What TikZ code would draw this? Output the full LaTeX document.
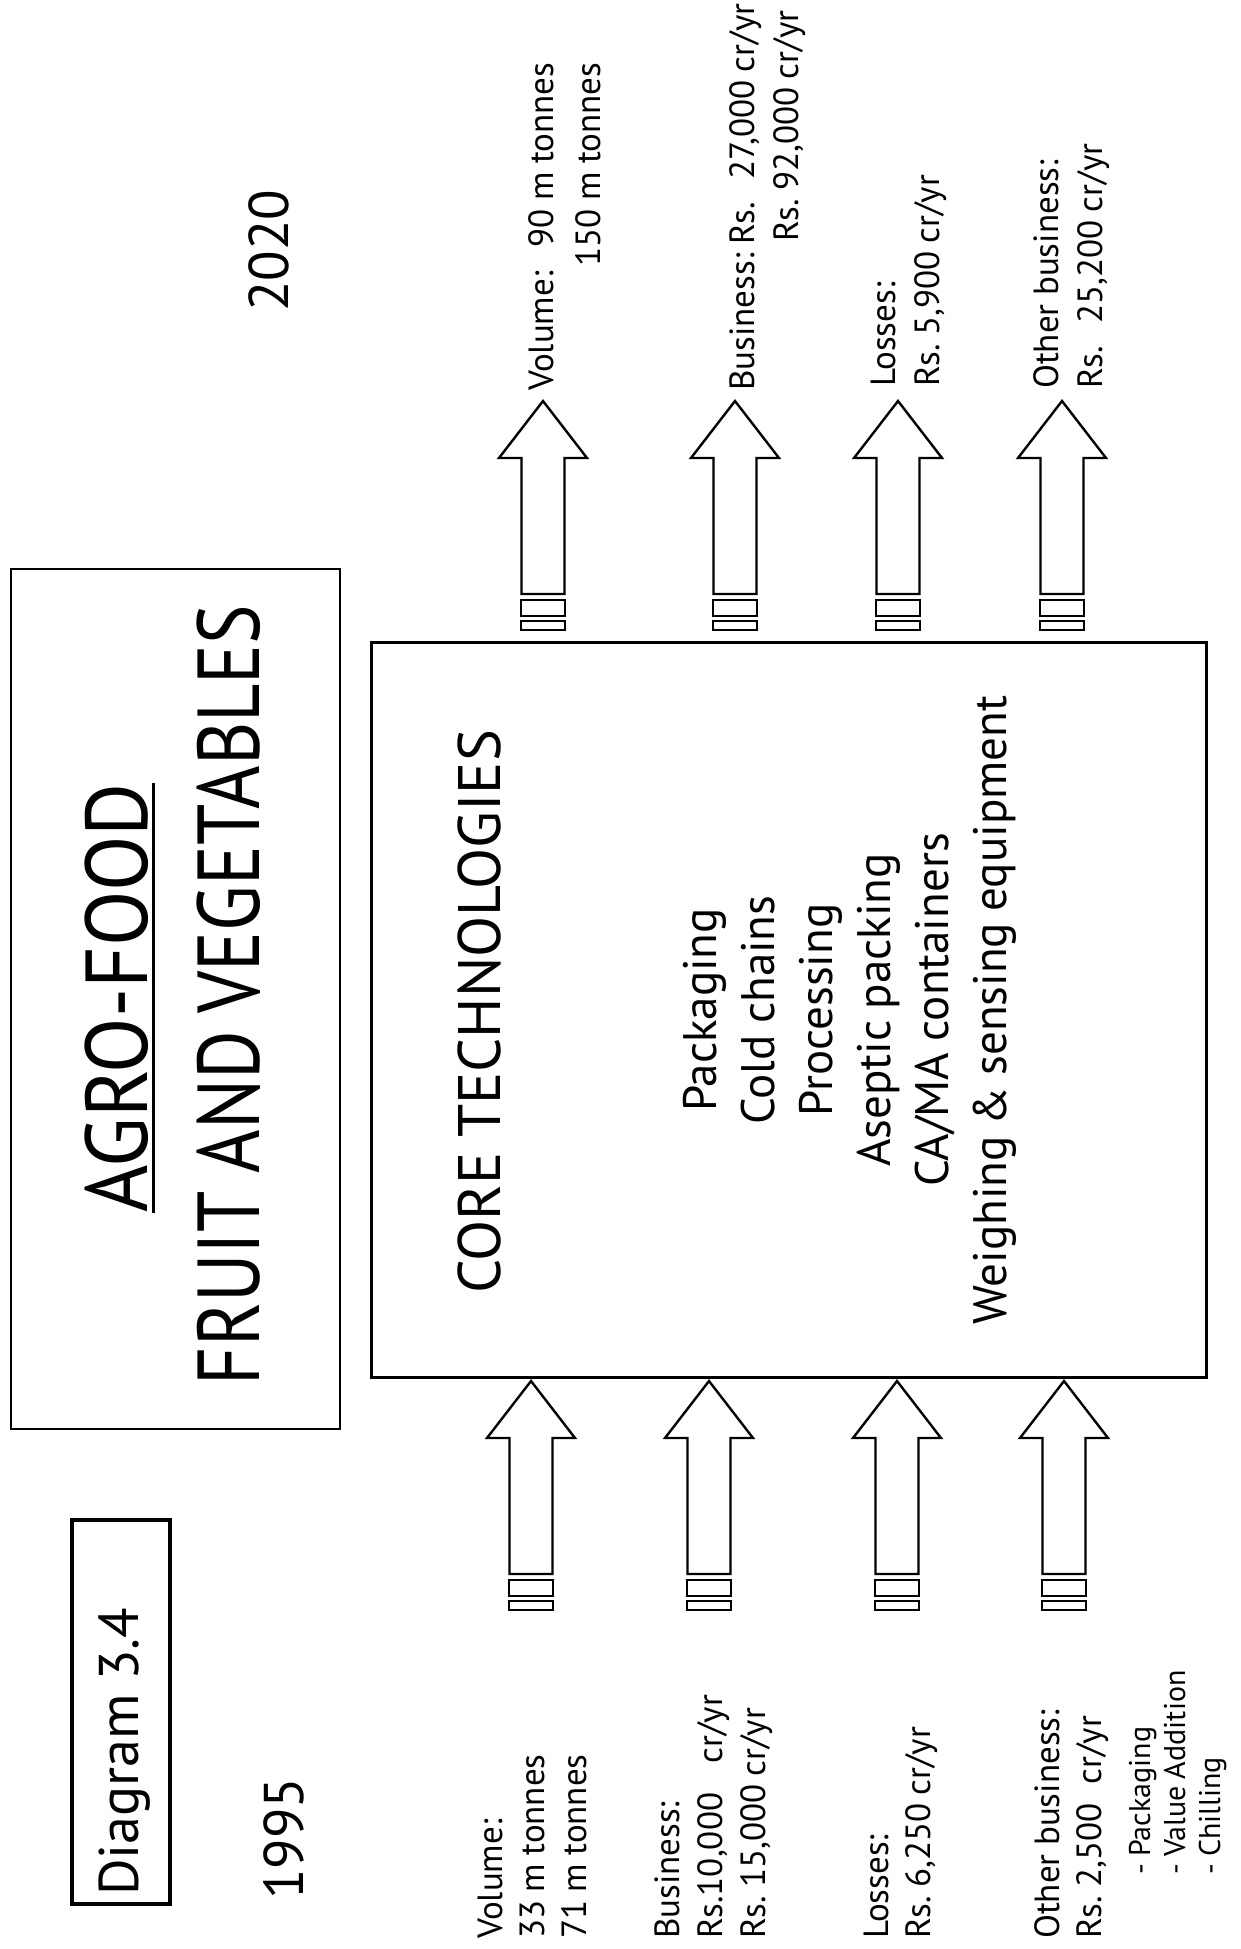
\documentclass[tikz,border=0pt]{standalone}
\usepackage{fontspec}
\setmainfont{PT Sans}[WordSpace=0.9]
\frenchspacing
\newcommand\fsLbl{\fontsize{35}{42}\selectfont\frenchspacing}
\newcommand\fsSub{\fontsize{30}{35}\selectfont\frenchspacing}
\newcommand\fsList{\fontsize{47}{58}\selectfont}
\newcommand\fsCore{\fontsize{60}{68}\selectfont}
\newcommand\fsYear{\fontsize{56}{64}\selectfont}
\newcommand\fsTitle{\fontsize{88}{100}\selectfont}
\tikzset{
  box/.style={draw, line width=2.6, inner sep=0},
  arr/.style={draw, line width=2.4, line join=miter, fill=white},
  lbl/.style={rotate=90, inner sep=0, font=\fsLbl, anchor=base west},
  sublbl/.style={rotate=90, inner sep=0, font=\fsSub, anchor=base west},
  listtxt/.style={rotate=90, inner sep=0, font=\fsList, anchor=base},
  blockarrow/.pic={
    \draw[arr] (0,0) -- (-44,57) -- (-21.5,57) -- (-21.5,193) -- (21.5,193) -- (21.5,57) -- (44,57) -- cycle;
    \draw[arr] (-22,199) rectangle (22,215);
    \draw[arr] (-22,220) rectangle (22,229);
  }
}
\begin{document}
\begin{tikzpicture}[x=1pt, y=-1pt]
\fill[white] (0,0) rectangle (1241,1949);
\useasboundingbox (0,0) rectangle (1241,1949);

% title box
\node[box, minimum width=329, minimum height=860] (titlebox) at (175.5,999) {};
\node[rotate=90, inner sep=0, anchor=base, font=\fsTitle] (agro) at (147,998) {\scalebox{0.92}[1]{AGRO-FOOD}};
\node[rotate=90, inner sep=0, anchor=base, font=\fsTitle] (fruit) at (259,995) {\scalebox{0.845}[1]{FRUIT AND VEGETABLES}};
\draw[line width=3] ([xshift=6]agro.base west) -- ([xshift=6]agro.base east);

% diagram label
\node[draw, line width=3.5, minimum width=98, minimum height=384, inner sep=0] (diagbox) at (121,1712) {};
\node[rotate=90, inner sep=0, anchor=base west, font=\fsYear] (diag) at (138,1896) {Diagram 3.4};

% years
\node[rotate=90, inner sep=0, anchor=base west, font=\fsYear] (y1995) at (303,1900) {1995};
\node[rotate=90, inner sep=0, anchor=base west, font=\fsYear] (y2020) at (288,312) {2020};

% core box
\node[box, line width=3, minimum width=835, minimum height=735] (core) at (788.5,1009.5) {};
\node[rotate=90, inner sep=0, anchor=base, font=\fsCore] (coretitle) at (500,1012) {CORE TECHNOLOGIES};
\node[listtxt] (t1) at (716,1010) {Packaging};
\node[listtxt] (t2) at (774,1010) {Cold chains};
\node[listtxt] (t3) at (832,1010) {Processing};
\node[listtxt] (t4) at (890,1010) {Aseptic packing};
\node[listtxt] (t5) at (948,1010) {CA/MA containers};
\node[listtxt] (t6) at (1006,1010) {Weighing \& sensing equipment};

% input arrows (1995)
\pic at (531,1381) {blockarrow};
\pic at (709,1381) {blockarrow};
\pic at (897,1381) {blockarrow};
\pic at (1064,1381) {blockarrow};

% output arrows (2020)
\pic at (543,401) {blockarrow};
\pic at (735,401) {blockarrow};
\pic at (898,401) {blockarrow};
\pic at (1062,401) {blockarrow};

% 1995 labels
\node[lbl] (lv1) at (502,1939) {Volume:};
\node[lbl] (lv2) at (544,1939) {33 m tonnes};
\node[lbl] (lv3) at (586,1939) {71 m tonnes};
\node[lbl] (lb1) at (679,1939) {Business:};
\node[lbl] (lb2) at (722,1939) {Rs.10,000\hspace{0.85em}cr/yr};
\node[lbl] (lb3) at (765,1939) {Rs. 15,000 cr/yr};
\node[lbl] (ll1) at (888,1939) {Losses:};
\node[lbl] (ll2) at (930,1939) {Rs. 6,250 cr/yr};
\node[lbl] (lo1) at (1059,1939) {Other business:};
\node[lbl] (lo2) at (1101,1939) {Rs. 2,500\hspace{0.55em}cr/yr};
\node[sublbl] (ls1) at (1150,1875) {- Packaging};
\node[sublbl] (ls2) at (1185,1875) {- Value Addition};
\node[sublbl] (ls3) at (1220,1875) {- Chilling};

% 2020 labels
\node[lbl] (rv1) at (553,391) {Volume:\hspace{0.45em} 90 m tonnes};
\node[lbl, anchor=base east] (rv2) at ([xshift=47]rv1.base east) {150 m tonnes};
\node[lbl] (rb1) at (754,391) {Business: Rs.\hspace{0.4em} 27,000 cr/yr};
\node[lbl] (rb2) at (798,242) {Rs. 92,000 cr/yr};
\node[lbl] (rl1) at (895,387) {Losses:};
\node[lbl] (rl2) at (939,387) {Rs. 5,900 cr/yr};
\node[lbl] (ro1) at (1058,389) {Other business:};
\node[lbl] (ro2) at (1102,389) {Rs.\hspace{0.4em} 25,200 cr/yr};
\end{tikzpicture}
\end{document}
